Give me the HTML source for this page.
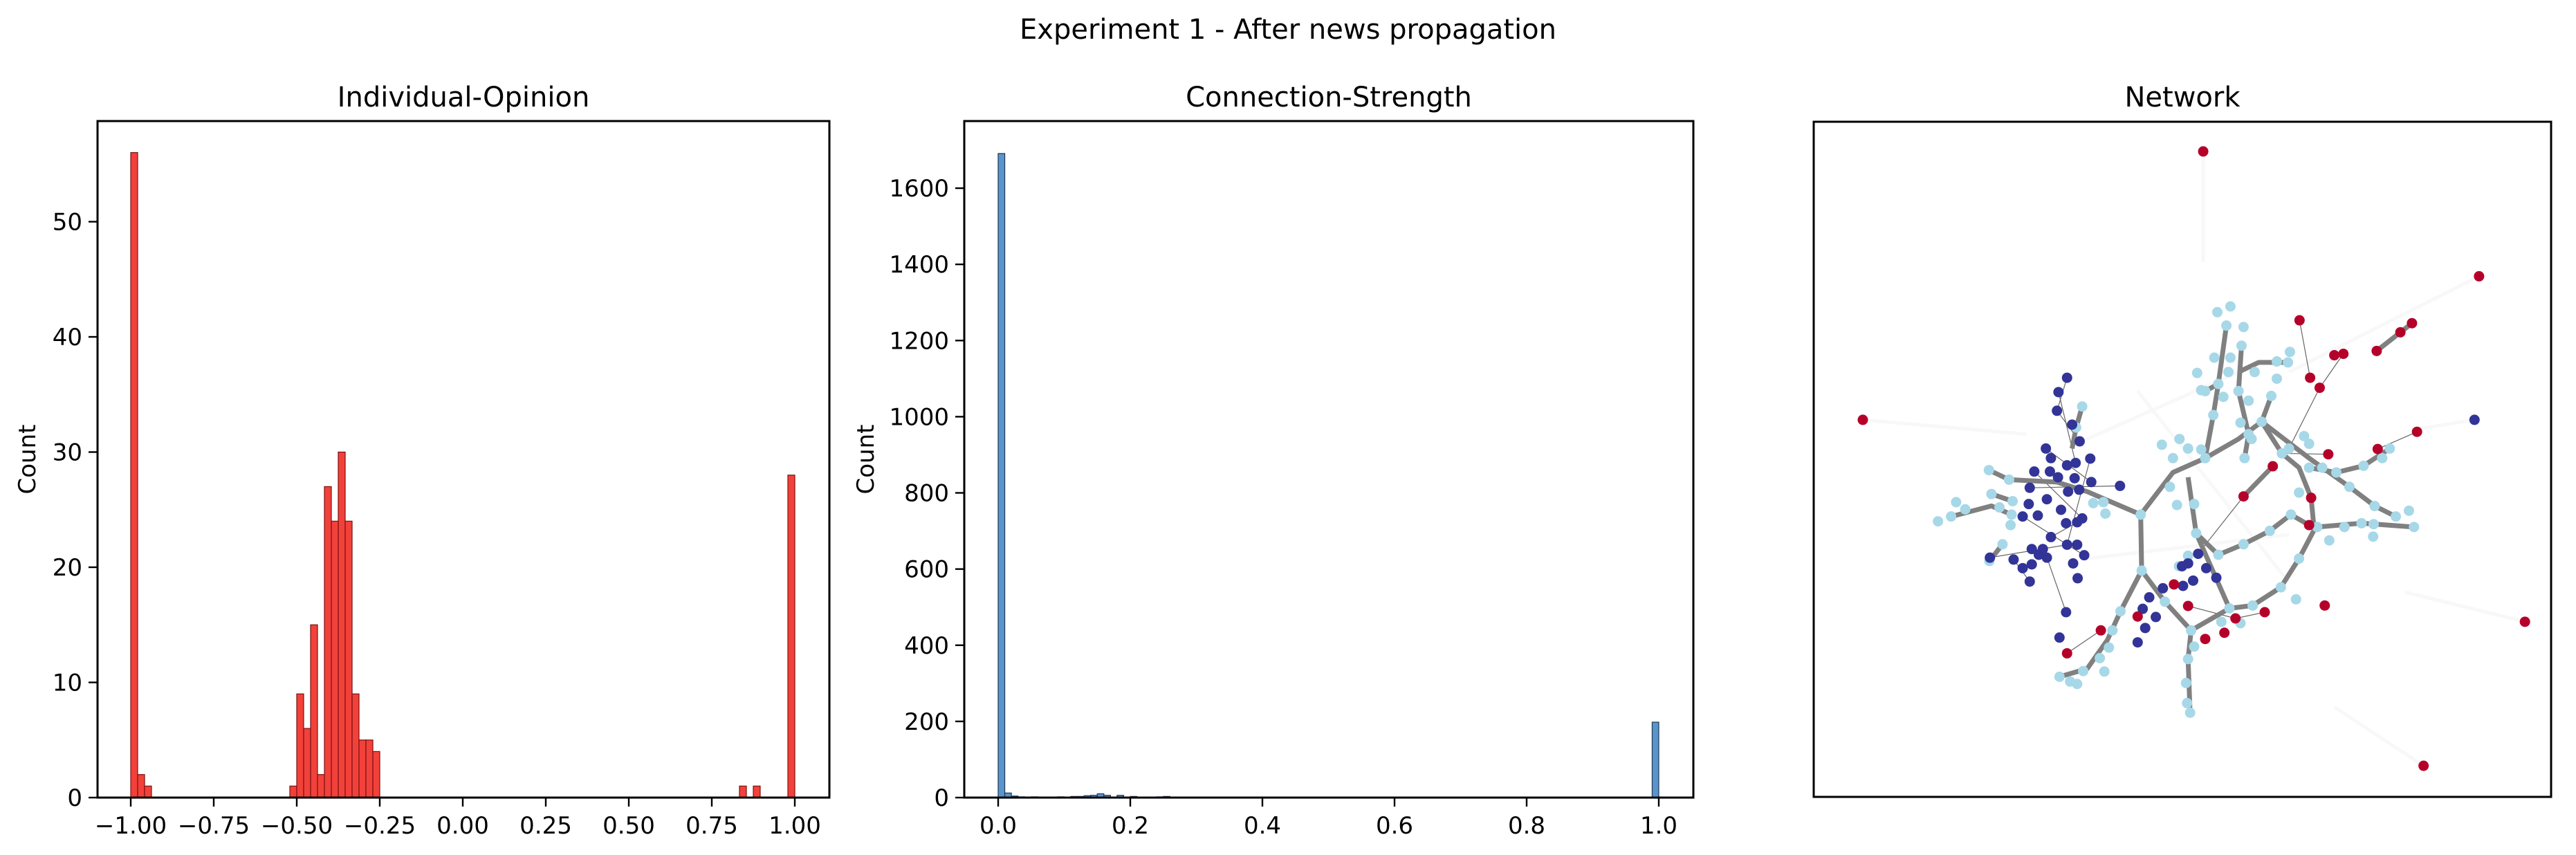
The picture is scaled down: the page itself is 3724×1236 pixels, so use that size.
<!DOCTYPE html>
<html><head><meta charset="utf-8"><style>
html,body{margin:0;padding:0;background:#fff;}
svg{display:block;font-family:"DejaVu Sans","Liberation Sans",sans-serif;}
</style></head><body>
<svg id="fig" width="3724" height="1236" viewBox="0 0 3724 1236" xmlns="http://www.w3.org/2000/svg">
<rect width="3724" height="1236" fill="#fff"/>
<text x="1862" y="56" font-size="40" text-anchor="middle">Experiment 1 - After news propagation</text>
<text x="670" y="154" font-size="40" text-anchor="middle">Individual-Opinion</text>
<text x="1921" y="154" font-size="40" text-anchor="middle">Connection-Strength</text>
<text x="3155" y="154" font-size="40" text-anchor="middle">Network</text>
<text x="40" y="664" font-size="34" text-anchor="middle" dominant-baseline="central" transform="rotate(-90 40 664)">Count</text>
<text x="1252" y="664" font-size="34" text-anchor="middle" dominant-baseline="central" transform="rotate(-90 1252 664)">Count</text>
<g id="p1"></g>
<g id="p2"></g>
<g id="p3"></g>
</svg>
<script>
// ---- Individual-Opinion histogram data ----
const opBinStart = -1;
const opBinWidth = 2/96;
const opBins = [0,1,2,23,24,25,26,27,28,29,30,31,32,33,34,35,88,90,95];
const opCounts = [56,2,1,1,9,6,15,2,27,24,30,24,9,5,5,4,1,1,28];
const opXTicks = [-1,-0.75,-0.5,-0.25,0,0.25,0.5,0.75,1];
const opXTickLabels = ["\u22121.00","\u22120.75","\u22120.50","\u22120.25","0.00","0.25","0.50","0.75","1.00"];
const opYTicks = [0,10,20,30,40,50];

// ---- Connection-Strength histogram data ----
const csBinWidth = 0.01;
const csBins = [0,1,2,3,5,9,11,12,13,14,15,16,18,20,24,25,99];
const csCounts = [1691,12,4,2,2,2,3,3,5,6,10,6,6,3,2,3,198];
const csXTicks = [0,0.2,0.4,0.6,0.8,1.0];
const csXTickLabels = ["0.0","0.2","0.4","0.6","0.8","1.0"];
const csYTicks = [0,200,400,600,800,1000,1200,1400,1600];

// ---- Network layout data (layout coordinates) ----
const nodesRed = [[830,99],[1377,360],[155,660],[1468,1082],[1267,1383],[1021,452],[1244,458],[1221,477],[1174,516],[1090,525],[1108,522],[1042,572],[1061,593],[1254,685],[1176,721],[1078,732],[968,757],[910,820],[1044,823],[1040,880],[1071,1048],[952,1062],[894,1075],[872,1105],[834,1118],[800,1049],[772,1004],[700,1071],[627,1100],[560,1148]];
const nodesBlue = [[1368,660],[560,572],[543,602],[540,641],[570,670],[585,705],[518,720],[528,740],[495,768],[526,768],[560,755],[577,750],[606,741],[542,780],[575,782],[608,790],[486,802],[520,826],[562,810],[584,806],[665,798],[484,836],[548,848],[472,862],[502,860],[558,876],[580,874],[590,866],[528,905],[560,921],[580,921],[490,930],[512,930],[520,948],[504,942],[594,943],[454,952],[490,962],[472,970],[572,960],[581,991],[486,998],[407,948],[558,1062],[545,1115],[723,1031],[710,1055],[736,1072],[715,1095],[700,1125],[750,1012],[790,1007],[810,996],[820,940],[836,970],[856,990],[800,960],[788,966]];
const nodesLight = [[405,765],[445,785],[410,815],[452,830],[426,843],[340,832],[358,847],[330,862],[304,872],[450,858],[448,880],[432,920],[406,955],[590,632],[578,676],[612,834],[632,832],[636,856],[706,858],[708,975],[666,1060],[650,1100],[643,1136],[625,1158],[634,1186],[592,1185],[545,1197],[566,1207],[580,1212],[748,712],[783,700],[800,720],[826,722],[834,740],[770,740],[764,800],[778,838],[812,836],[816,897],[800,944],[782,966],[860,942],[910,920],[1004,858],[1020,812],[1040,760],[1056,884],[1080,912],[1110,884],[1144,876],[1168,878],[1170,840],[1167,904],[1212,862],[1238,850],[1248,884],[1200,720],[1185,740],[1148,756],[1120,800],[1094,770],[1066,760],[1030,694],[1040,710],[1000,720],[986,730],[946,664],[926,700],[904,666],[912,740],[920,690],[852,530],[884,530],[880,560],[860,585],[834,600],[850,650],[870,612],[900,600],[920,620],[932,560],[965,610],[976,574],[1002,518],[998,540],[976,538],[906,505],[910,466],[876,463],[858,435],[884,423],[818,562],[826,598],[882,1054],[866,1082],[904,1085],[928,1048],[984,1010],[1014,1035],[1020,950],[962,892],[806,1100],[812,1134],[800,1160],[796,1210],[798,1252],[804,1272],[754,1040]];
const thickPaths = [
 [[706,858],[708,975]],
 [[706,858],[770,770],[834,740],[850,650],[860,585],[876,463]],
 [[706,858],[600,810],[540,790],[445,785],[405,765]],
 [[708,975],[666,1060],[640,1120],[600,1180],[545,1197]],
 [[708,975],[754,1040],[806,1100],[800,1160],[804,1272]],
 [[806,1100],[882,1054],[928,1048],[984,1010],[1020,950],[1050,890],[1044,823],[1020,760],[986,730],[946,664]],
 [[800,780],[816,897],[860,942],[910,920],[962,892],[1004,858],[1040,880]],
 [[816,897],[882,1054]],
 [[834,740],[900,700],[946,664]],
 [[946,664],[1040,740],[1120,800],[1170,840],[1212,862]],
 [[1056,884],[1144,876],[1248,884]],
 [[1040,760],[1094,770],[1148,756],[1200,720]],
 [[910,820],[968,757]],
 [[330,862],[410,840],[450,858]],
 [[906,505],[900,600],[920,690],[912,740]],
 [[860,585],[834,600]],
 [[965,610],[946,664]],
 [[570,720],[578,676],[590,632]],
 [[1004,540],[940,540],[900,560]],
 [[1174,516],[1244,458]],
 [[410,815],[452,830]],
 [[432,920],[406,955]]
];
const thinEdges = [[[560,572],[540,641]],[[540,641],[585,705]],[[518,720],[608,790]],[[486,802],[665,798]],[[495,768],[590,866]],[[472,862],[594,943]],[[407,948],[560,921]],[[528,905],[580,874]],[[558,1062],[520,948]],[[560,1148],[627,1100]],[[1021,452],[1042,572]],[[1108,522],[1061,593]],[[1061,593],[1000,720]],[[1078,732],[986,730]],[[1254,685],[1176,721]],[[800,1049],[894,1075]],[[952,1062],[894,1075]],[[820,940],[910,820]],[[486,998],[454,952]],[[606,741],[560,921]],[[543,602],[577,750]]];
const faintEdges = [[[830,99],[830,330]],[[155,660],[480,690]],[[1377,360],[1000,560]],[[1468,1082],[1230,1020]],[[1267,1383],[1090,1260]],[[1368,660],[1250,680]],[[600,700],[900,560]],[[600,950],[1000,900]],[[700,600],[1000,1000]]];

const NS = "http://www.w3.org/2000/svg";
function mk(parent, tag, attrs){ const e=document.createElementNS(NS,tag); for(const k in attrs) e.setAttribute(k,attrs[k]); parent.appendChild(e); return e; }

function drawHist(g, ax, bins, counts, binStart, binW, xS, yS, fill, edge, xTicks, xLabels, yTicks, name){
  for(let i=0;i<bins.length;i++){
    const x0=xS(binStart+bins[i]*binW), x1=xS(binStart+(bins[i]+1)*binW);
    const y=yS(counts[i]);
    const r=mk(g,'rect',{x:x0,y:y,width:x1-x0,height:yS(0)-y,fill:fill,stroke:edge,'stroke-width':1.2});
    
    
  }
  const fr=mk(g,'rect',{x:ax.l,y:ax.t,width:ax.r-ax.l,height:ax.b-ax.t,fill:'none',stroke:'#000','stroke-width':3});
  
  
  xTicks.forEach((v,i)=>{
    const x=xS(v);
    mk(g,'line',{x1:x,x2:x,y1:ax.b,y2:ax.b+13,stroke:'#000','stroke-width':2.4});
    const t=mk(g,'text',{x:x,y:1205,'font-size':34,'text-anchor':'middle'});
    t.textContent=xLabels[i];
    
    
  });
  yTicks.forEach(v=>{
    const y=yS(v);
    mk(g,'line',{x1:ax.l-13,x2:ax.l,y1:y,y2:y,stroke:'#000','stroke-width':2.4});
    const t=mk(g,'text',{x:ax.l-22,y:y+12,'font-size':34,'text-anchor':'end'});
    t.textContent=String(v);
    
    
  });
}

// Plot 1
const ax1={l:141,r:1199,t:175,b:1153};
const x1S=v=>669+v*480, y1S=v=>1153-v*16.65;
drawHist(document.getElementById('p1'),ax1,opBins,opCounts,opBinStart,opBinWidth,x1S,y1S,'#f2413a','#7a1010',opXTicks,opXTickLabels,opYTicks,'opinion');

// Plot 2
const ax2={l:1394,r:2448,t:175,b:1153};
const x2S=v=>1443+v*955, y2S=v=>1153-v*0.5506;
drawHist(document.getElementById('p2'),ax2,csBins,csCounts,0,csBinWidth,x2S,y2S,'#5995cc','#1f3550',csXTicks,csXTickLabels,csYTicks,'strength');

// Plot 3 network
const g3=document.getElementById('p3');
const nX=v=>2693+(v-155)*0.729, nY=v=>176+(v-37)*976/1411;
function pathD(pts){ return pts.map((p,i)=>(i?'L':'M')+nX(p[0]).toFixed(1)+' '+nY(p[1]).toFixed(1)).join(' '); }
faintEdges.forEach(p=>{
  const e=mk(g3,'path',{d:pathD(p),stroke:'#f8f8f8','stroke-width':5,fill:'none'});
  
  
});
thinEdges.forEach(p=>{
  const e=mk(g3,'path',{d:pathD(p),stroke:'#666','stroke-width':1.2,fill:'none'});
  
  
});
thickPaths.forEach(p=>{
  const e=mk(g3,'path',{d:pathD(p),stroke:'#808080','stroke-width':7,fill:'none','stroke-linejoin':'round'});
  
  
});
function drawNodes(arr,color,name){
  arr.forEach(p=>{
    const c=mk(g3,'circle',{cx:nX(p[0]),cy:nY(p[1]),r:7.5,fill:color});
    
    
  });
}
drawNodes(nodesLight,'#a6d8e8','neutral-node');
drawNodes(nodesBlue,'#323497','negative-node');
drawNodes(nodesRed,'#b5002a','positive-node');
const f3=mk(g3,'rect',{x:2622,y:176,width:1066,height:976,fill:'none',stroke:'#000','stroke-width':3});


</script>
</body></html>
